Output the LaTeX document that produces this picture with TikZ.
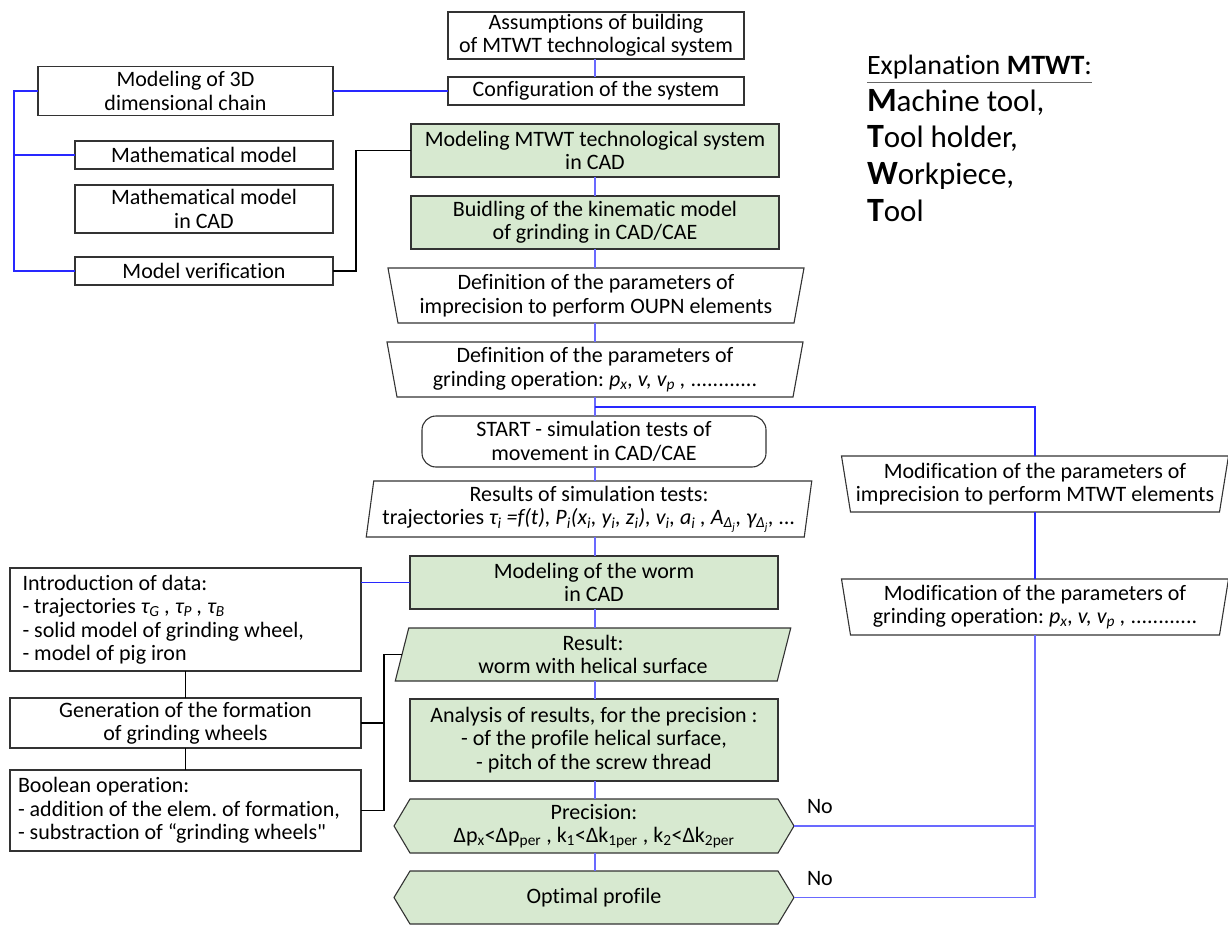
\documentclass[tikz,border=0pt]{standalone}
\usepackage{fontspec}
\setmainfont{Carlito}[Ligatures={TeX,NoCommon}]
\frenchspacing
\usetikzlibrary{calc,backgrounds}
\definecolor{boxgreen}{RGB}{215,233,208}
\definecolor{linkblue}{RGB}{40,40,255}
\definecolor{chainblue}{RGB}{105,105,255}
\newcommand{\straightquote}{{\XeTeXglyph\XeTeXcharglyph"22\relax}}
\tikzset{
  base/.style={font=\fontsize{22}{23.5}\selectfont, align=center, inner sep=0pt, outer sep=0pt},
  box/.style={base, rectangle, draw=black!80, line width=1.1pt, fill=white},
  gbox/.style={box, fill=boxgreen},
  shp/.style={base, rectangle, draw=none},
  edge/.style={draw=black!80, line width=1.1pt},
  bl/.style={draw=linkblue, line width=1.4pt},
  bc/.style={draw=chainblue, line width=1.4pt},
  bk/.style={draw=black, line width=1.1pt},
}
\newcommand{\trapez}[3]{\draw[edge, fill=#3] ($(#1.north west)+(-#2,0)$) -- ($(#1.north east)+(#2,0)$) -- ($(#1.south east)+(-#2,0)$) -- ($(#1.south west)+(#2,0)$) -- cycle;}
\newcommand{\parall}[3]{\draw[edge, fill=#3] ($(#1.north west)+(#2,0)$) -- ($(#1.north east)+(#2,0)$) -- ($(#1.south east)+(-#2,0)$) -- ($(#1.south west)+(-#2,0)$) -- cycle;}
\newcommand{\hexa}[3]{\draw[edge, fill=#3] (#1.west) -- ($(#1.north west)+(#2,0)$) -- ($(#1.north east)+(-#2,0)$) -- (#1.east) -- ($(#1.south east)+(-#2,0)$) -- ($(#1.south west)+(#2,0)$) -- cycle;}
\begin{document}
\begin{tikzpicture}[x=1pt,y=-1pt]
\useasboundingbox (0,0) rectangle (1228,925);

% centre column
\node[box, minimum width=296pt, minimum height=47pt] (A) at (596,35.5) {Assumptions of building\\of MTWT technological system};
\node[box, minimum width=296pt, minimum height=28pt] (C) at (596,91) {Configuration of the system};
\node[gbox, minimum width=368pt, minimum height=53pt] (MT) at (595,150.5) {Modeling MTWT technological system\\in CAD};
\node[gbox, minimum width=368pt, minimum height=53pt] (BK) at (595,222.5) {Buidling of the kinematic model\\of grinding in CAD/CAE};
\node[shp, minimum width=406pt, minimum height=55pt] (D1) at (596,295.5) {Definition of the parameters of\\imprecision to perform OUPN elements};
\node[shp, minimum width=406pt, minimum height=55pt] (D2) at (595,369.5) {Definition of the parameters of\\grinding operation: \textit{p\textsubscript{x}, v, v\textsubscript{p} ,} ............};
\node[box, rounded corners=14pt, minimum width=344pt, minimum height=51pt] (S) at (594,441.5) {START - simulation tests of\\movement in CAD/CAE};
\node[shp, minimum width=438pt, minimum height=56pt] (R) at (589,509) {Results of simulation tests:\\trajectories \textit{τ\textsubscript{i} =f(t), P\textsubscript{i}(x\textsubscript{i}, y\textsubscript{i}, z\textsubscript{i}), v\textsubscript{i}, a\textsubscript{i} , A\textsubscript{Δ\textsubscript{j}}, γ\textsubscript{Δ\textsubscript{j}}, ...}};
\node[gbox, minimum width=368pt, minimum height=53pt] (MW) at (594,582.5) {Modeling of the worm\\in CAD};
\node[shp, minimum width=382pt, minimum height=53pt] (RS) at (593,654.5) {Result:\\worm with helical surface};
\node[gbox, minimum width=368pt, minimum height=82pt] (AN) at (594,740) {Analysis of results, for the precision :\\- of the profile helical surface,\\- pitch of the screw thread};
\node[shp, minimum width=400pt, minimum height=54pt] (P) at (594,826) {Precision:\\Δp\textsubscript{x}<Δp\textsubscript{per} , k\textsubscript{1}<Δk\textsubscript{1per} , k\textsubscript{2}<Δk\textsubscript{2per}};
\node[shp, minimum width=400pt, minimum height=53pt] (O) at (594,897.5) {Optimal profile};

% left column (top)
\node[box, minimum width=295pt, minimum height=49pt] (M3) at (185.5,91) {Modeling of 3D\\dimensional chain};
\node[box, minimum width=258pt, minimum height=28pt] (MM) at (204,155) {Mathematical model};
\node[box, minimum width=258pt, minimum height=48pt] (MC) at (204,209) {Mathematical model\\in CAD};
\node[box, minimum width=258pt, minimum height=28pt] (MV) at (204,271) {Model verification};

% left column (bottom)
\node[box, minimum width=351pt, minimum height=103pt, text width=326pt, align=flush left] (I) at (185.5,619.5) {Introduction of data:\\- trajectories \textit{τ\textsubscript{G} , τ\textsubscript{P} , τ\textsubscript{B}}\\- solid model of grinding wheel,\\- model of pig iron};
\node[box, minimum width=351pt, minimum height=50pt] (G) at (185.5,723) {Generation of the formation\\of grinding wheels};
\node[box, minimum width=351pt, minimum height=81pt, text width=335pt, align=flush left] (B) at (185.5,810.5) {Boolean operation:\\- addition of the elem. of formation,\\- substraction of “grinding wheels\straightquote};

% right column
\node[shp, minimum width=378pt, minimum height=56pt] (M1) at (1035,484) {Modification of the parameters of\\imprecision to perform MTWT elements};
\node[shp, minimum width=378pt, minimum height=56pt] (M2) at (1035,607) {Modification of the parameters of\\grinding operation: \textit{p\textsubscript{x}, v, v\textsubscript{p} ,} ............};
\node[base, anchor=base west] (no1) at (807,813) {No};
\node[base, anchor=base west] (no2) at (807,885) {No};

% explanation
\node[base, font=\fontsize{28}{28}\selectfont, anchor=base west] (ex) at (867,75) {Explanation \textbf{MTWT}:};
\draw[draw=black!60, line width=1pt] ([yshift=-8pt]ex.base west) -- ([yshift=-8pt]ex.base east);
\node[base, font=\fontsize{31}{31}\selectfont, anchor=base west] (e1) at (867,112) {{\fontsize{34}{34}\selectfont\textbf{M}}achine tool,};
\node[base, font=\fontsize{31}{31}\selectfont, anchor=base west] (e2) at (867,148) {{\fontsize{34}{34}\selectfont\textbf{T}}ool holder,};
\node[base, font=\fontsize{31}{31}\selectfont, anchor=base west] (e3) at (867,185) {{\fontsize{34}{34}\selectfont\textbf{W}}orkpiece,};
\node[base, font=\fontsize{31}{31}\selectfont, anchor=base west] (e4) at (867,222) {{\fontsize{34}{34}\selectfont\textbf{T}}ool};

% custom outlines
\begin{scope}[on background layer]
\trapez{D1}{5}{white}
\trapez{D2}{5}{white}
\trapez{M1}{4.5}{white}
\trapez{M2}{4.5}{white}
\parall{R}{3.75}{white}
\parall{RS}{6.75}{boxgreen}
\hexa{P}{16}{boxgreen}
\hexa{O}{16}{boxgreen}
\end{scope}

% connectors
\coordinate (cx) at (595,0);
\draw[bc] (A.south -| cx) -- (C.north -| cx);
\draw[bc] (MT.south -| cx) -- (BK.north -| cx);
\draw[bc] (BK.south -| cx) -- (D1.north -| cx);
\draw[bc] (D1.south -| cx) -- (D2.north -| cx);
\draw[bc] (D2.south -| cx) -- (S.north -| cx);
\draw[bc] (S.south -| cx) -- (R.north -| cx);
\draw[bc] (R.south -| cx) -- (MW.north -| cx);
\draw[bc] (MW.south -| cx) -- (RS.north -| cx);
\draw[bc] (RS.south -| cx) -- (AN.north -| cx);
\draw[bc] (AN.south -| cx) -- (P.north -| cx);
\draw[bc] (P.south -| cx) -- (O.north -| cx);

\draw[bl] (M3.east) -- (M3.east -| C.west);
\coordinate (bx) at (14,91);
\draw[bl] (M3.west) -- (bx) |- (MV.west);
\draw[bl] (MM.west) -- (MM.west -| bx);
\draw[bl] ($(MC.west)+(0,-10)$) -- ($(MC.west)+(0,-10)$ -| bx);

\coordinate (k1) at (356,0);
\draw[bk] (MV.east) -| (k1 |- MT.west) -- (MT.west);

\draw[bl] (MW.west) -- (MW.west -| I.east);
\draw[bk] (I.south) -- (G.north);
\draw[bk] (G.south) -- (B.north);
\coordinate (k2) at (384,0);
\draw[bk] (RS.west) -| (k2 |- B.east) -- (B.east);
\draw[bk] (G.east) -- (G.east -| k2);

\draw[bl] ($(D2.south -| cx)+(0,10)$) -| (M1.north);
\draw[bl] (M1.south) -- (M2.north);
\draw[bc] (M2.south) |- (O.east);
\draw[bc] (P.east) -- (P.east -| M2.south);
\end{tikzpicture}
\end{document}
